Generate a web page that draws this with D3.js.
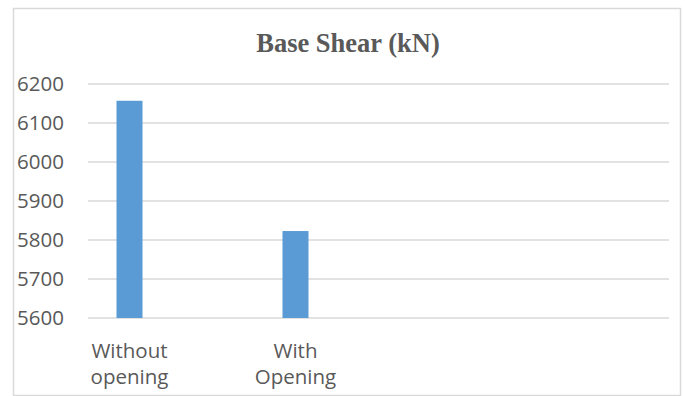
<!DOCTYPE html>
<html><head><meta charset="utf-8">
<script src="https://cdn.jsdelivr.net/npm/d3@7"></script>
<style>body{margin:0;background:#fff;} svg{display:block;}</style>
</head><body>
<script>
const title = "Base Shear (kN)";
const categories = ["Without opening", "", "With Opening", "", "", "", ""];
const values = [6157, null, 5823, null, null, null, null];
const yTicks = [5600, 5700, 5800, 5900, 6000, 6100, 6200];

const W = 685, H = 396;
const m = {left: 88, right: 16, top: 84, bottom: 78};
const svg = d3.select("body").append("svg").attr("width", W).attr("height", H);

svg.append("rect").attr("x", 13.5).attr("y", 8.5).attr("width", 667).attr("height", 387)
  .attr("fill", "#fff").attr("stroke", "#d9d9d9").attr("stroke-width", 1.5);

const x = d3.scaleBand().domain(d3.range(categories.length)).range([m.left, W - m.right]);
const y = d3.scaleLinear().domain([5600, 6200]).range([H - m.bottom, m.top]);

// grid
svg.append("g").selectAll("line").data(yTicks).join("line")
  .attr("x1", m.left).attr("x2", W - m.right)
  .attr("y1", d => y(d)).attr("y2", d => y(d))
  .attr("stroke", "#d9d9d9").attr("stroke-width", 1.5);

// y axis labels
const yAxis = d3.axisLeft(y).tickValues(yTicks).tickSize(0).tickPadding(24).tickFormat(d3.format("d"));
const gy = svg.append("g").attr("transform", `translate(${m.left},0)`).call(yAxis);
gy.select(".domain").remove();
gy.selectAll("text").attr("fill", "#595959").style("font-family", "'Open Sans'").style("font-size", "20.5px");

// bars
const bw = 26;
svg.append("g").selectAll("rect").data(values.map((v, i) => ({v, i})).filter(d => d.v != null)).join("rect")
  .attr("x", d => x(d.i) + x.bandwidth() / 2 - bw / 2)
  .attr("width", bw)
  .attr("y", d => y(d.v))
  .attr("height", d => y(5600) - y(d.v))
  .attr("fill", "#5b9bd5");

// category labels (wrapped)
const lbl = svg.append("g");
categories.forEach((c, i) => {
  if (!c) return;
  const words = c.split(" ");
  const t = lbl.append("text").attr("x", x(i) + x.bandwidth() / 2).attr("y", 358)
    .attr("text-anchor", "middle").attr("fill", "#595959")
    .style("font-family", "'Open Sans'").style("font-size", "20.5px");
  words.forEach((w, k) => t.append("tspan").attr("x", x(i) + x.bandwidth() / 2).attr("dy", k ? 26 : 0).text(w));
});

svg.append("text").attr("x", 348).attr("y", 52).attr("text-anchor", "middle")
  .attr("fill", "#595959").style("font-family", "'Liberation Serif'").style("font-weight", "bold")
  .style("font-size", "26.5px").text(title);
</script>
</body></html>
